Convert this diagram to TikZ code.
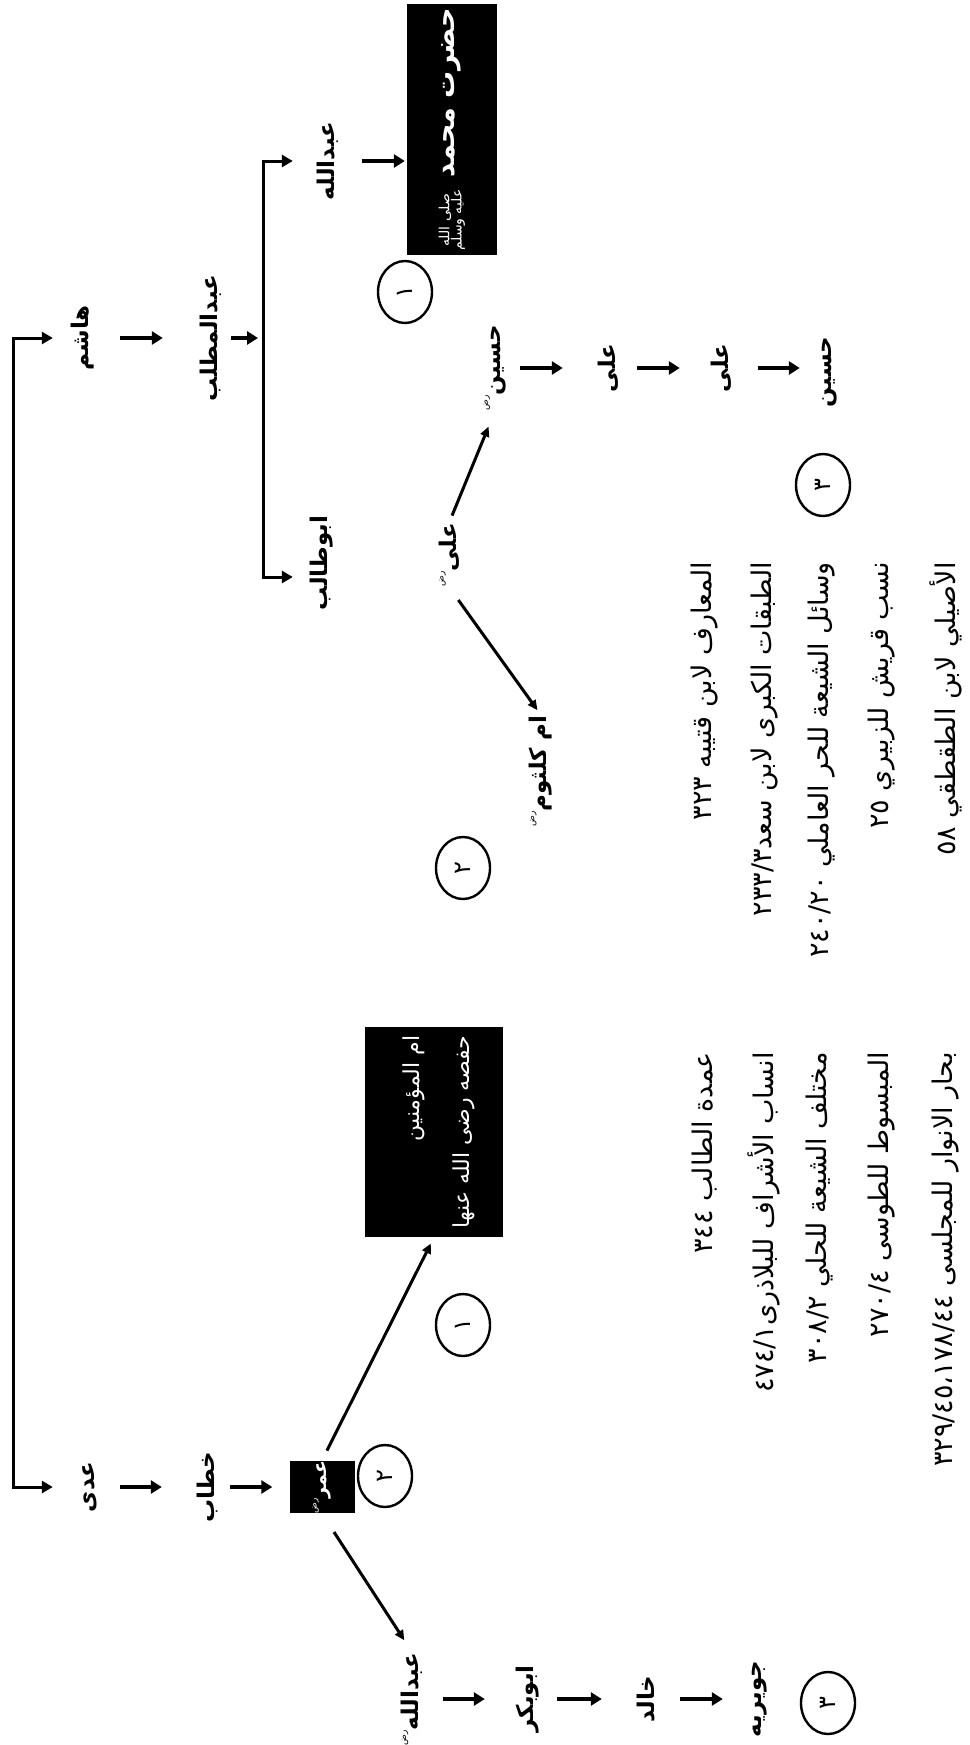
\documentclass[tikz,border=0pt]{standalone}
\usepackage{fontspec}
\usetikzlibrary{arrows.meta,shapes.geometric}
\TeXXeTstate=1
\newfontfamily\arabicfont[Script=Arabic]{DejaVu Sans}
\newcommand\rtl[1]{\beginR #1\endR}
\newcommand\ltrnum[1]{\beginL #1\endL{}}
% small raised "radi" honorific written after a name
\newcommand\radi{\raisebox{0.55em}{\arabicfont\mdseries\fontsize{9}{9}\selectfont\beginR رض\endR}}
\newcommand\namefont{\arabicfont\bfseries\fontsize{23}{27}\selectfont}
\newcommand\srcfont{\arabicfont\fontsize{27}{30}\selectfont}
\newcommand\circfont{\arabicfont\fontsize{24}{26}\selectfont}
\newcommand\boxsmall{\arabicfont\fontsize{14}{16}\selectfont}
\newcommand\boxbig{\arabicfont\bfseries\fontsize{27}{30}\selectfont}
\newcommand\hafsafont{\arabicfont\fontsize{22}{50}\selectfont}

\begin{document}
\begin{tikzpicture}[x=1pt,y=-1pt,
  person/.style={rotate=90,font=\namefont,inner sep=0pt,minimum height=40pt,minimum width=30pt},
  source/.style={rotate=90,anchor=east,font=\srcfont,inner sep=0pt},
  darkbox/.style={rotate=90,fill=black,text=white,inner sep=0pt},
  numcirc/.style={rotate=90,draw,ellipse,line width=2.4pt,minimum width=62pt,minimum height=54pt,inner sep=0pt,font=\circfont},
  link/.style={line width=4.5pt,-{Triangle[length=11pt,width=13pt]}},
  bracket/.style={line width=3pt,{Triangle[length=11pt,width=12pt]}-{Triangle[length=11pt,width=12pt]}},
  diagarrow/.style={line width=3pt,-{Triangle[length=10pt,width=9pt]}}]

\fill[white] (0,0) rectangle (969,1745);
\useasboundingbox (0,0) rectangle (969,1745);

% junction points of the two brackets
\coordinate (trunkTop) at (13,338);
\coordinate (trunkBot) at (13,1487);
\coordinate (brTop) at (263,161);
\coordinate (brBot) at (263,577);

% ---- Hashim's line
\node[person] (hashim) at (83,338) {\rtl{هاشم}};
\node[person] (muttalib) at (211,338) {\rtl{عبدالمطلب}};
\node[person] (abdullahA) at (328,161) {\rtl{عبدالله}};
\node[person] (abutalib) at (322,563) {\rtl{ابوطالب}};
\node[darkbox,minimum width=251pt,minimum height=90pt] (mbox) at (452,129.5)
  {\begin{tabular}{@{}c@{}}\boxsmall\rtl{صلی الله}\\[-2pt]\boxsmall\rtl{علیه وسلم}\end{tabular}\hspace{12pt}{\boxbig\rtl{حضرت محمد}}};

\node[person] (aliA) at (449,555) {\rtl{علی\radi}};
\node[person] (husainA) at (495,368) {\rtl{حسین\radi}};
\node[person] (aliB) at (608,368) {\rtl{علی}};
\node[person] (aliC) at (721,368) {\rtl{علی}};
\node[person] (husainB) at (830,372) {\rtl{حسین}};
\node[person] (ummk) at (541,771) {\rtl{ام کلثوم\radi}};

% ---- Adi's line
\node[person] (adi) at (90,1487) {\rtl{عدی}};
\node[person] (khattab) at (207,1487) {\rtl{خطاب}};
\node[darkbox,minimum width=35pt,minimum height=65pt,font=\arabicfont\bfseries\fontsize{19}{22}\selectfont] (umar) at (322,1487) {\rtl{عمر\radi}};
\node[darkbox,minimum width=210pt,minimum height=138pt] (hafsa) at (434,1132)
  {\hafsafont\begin{tabular}{@{}r@{}}\rtl{ام المؤمنین}\\\rtl{حفصه رضی الله عنها}\end{tabular}};
\node[person] (abdullahB) at (412,1699) {\rtl{عبدالله\radi}};
\node[person] (abubakr) at (528,1699) {\rtl{ابوبکر}};
\node[person] (khalid) at (646,1699) {\rtl{خالد}};
\node[person] (juwayriya) at (760,1699) {\rtl{جویریه}};

% ---- numbered marriage markers
\node[numcirc] (c1a) at (405,292) {١};
\node[numcirc] (c3a) at (823,485) {٣};
\node[numcirc] (c2a) at (463,868) {٢};
\node[numcirc] (c1b) at (463,1325) {١};
\node[numcirc] (c2b) at (385,1476) {٢};
\node[numcirc] (c3b) at (828,1703) {٣};

% ---- brackets
\draw[bracket,shorten <=10pt,shorten >=17pt] (hashim.north) -- (trunkTop) -- (trunkBot) -- (adi.north);
\draw[bracket,shorten <=15pt,shorten >=9pt] (abdullahA.north) -- (brTop) -- (brBot) -- (brBot -| abutalib.north);

% ---- descent arrows
\draw[link,shorten <=17pt,shorten >=28pt] (hashim.south) -- (muttalib.north);
\draw[link,shorten >=5pt] (muttalib.south) -- (muttalib.south -| brTop);
\draw[link,shorten <=14pt,shorten >=2pt] (abdullahA.south) -- (abdullahA.south -| mbox.north);
\draw[link,shorten <=5pt,shorten >=25pt] (husainA.south) -- (aliB.north);
\draw[link,shorten <=9pt,shorten >=21pt] (aliB.south) -- (aliC.north);
\draw[link,shorten <=17pt,shorten >=10pt] (aliC.south) -- (aliC.south -| husainB.north);
\draw[link,shorten <=10pt,shorten >=25pt] (adi.south) -- (khattab.north);
\draw[link,shorten <=3pt,shorten >=17pt] (khattab.south) -- (umar.north);
\draw[link,shorten <=11pt,shorten >=23pt] (abdullahB.south) -- (abubakr.north);
\draw[link,shorten <=9pt,shorten >=24pt] (abubakr.south) -- (khalid.north);
\draw[link,shorten <=14pt,shorten >=17pt] (khalid.south) -- (juwayriya.north);

% ---- diagonal arrows
\draw[diagarrow,shorten <=8pt,shorten >=17pt] (aliA.east) -- (husainA.west);
\draw[diagarrow,shorten <=16pt,shorten >=6pt] (aliA.west) -- (ummk.east);
\draw[diagarrow,shorten <=11pt,shorten >=7pt] (umar.east) -- (hafsa.west);
\draw[diagarrow,shorten <=22pt,shorten >=14pt] (umar.west) -- (abdullahB.east);

% ---- sources, first group
\node[source] (ra) at (705,562) {\rtl{المعارف لابن قتيبه \ltrnum{٣٢٣}}};
\node[source] (rb) at (765,562) {\rtl{الطبقات الكبرى لابن سعد\ltrnum{٢٣٣/٣}}};
\node[source] (rc) at (822,562) {\rtl{وسائل الشيعة للحر العاملي \ltrnum{٢٤٠/٢٠}}};
\node[source] (rd) at (882,562) {\rtl{نسب قريش للزبيري \ltrnum{٢٥}}};
\node[source] (re) at (946,562) {\rtl{الأصيلي لابن الطقطقي \ltrnum{٥٨}}};

% ---- sources, second group
\node[source] (la) at (705,1052) {\rtl{عمدة الطالب \ltrnum{٣٤٤}}};
\node[source] (lb) at (764,1052) {\rtl{انساب الأشراف للبلاذری\ltrnum{٤٧٤/١}}};
\node[source] (lc) at (820,1052) {\rtl{مختلف الشيعة للحلي \ltrnum{٣٠٨/٢}}};
\node[source] (ld) at (882,1052) {\rtl{المبسوط للطوسی \ltrnum{٢٧٠/٤}}};
\node[source] (le) at (946,1052) {\rtl{بحار الانوار للمجلسی \ltrnum{٣٢٩/٤٥،١٧٨/٤٤}}};
\end{tikzpicture}
\end{document}
